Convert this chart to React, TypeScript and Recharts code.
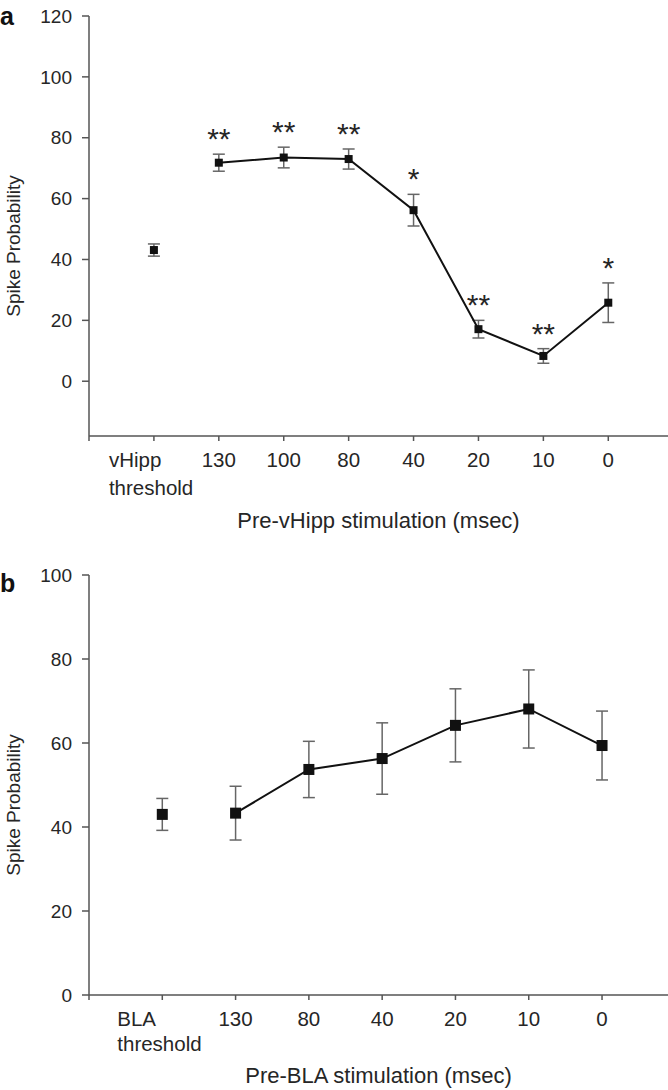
import { ComposedChart, Line, XAxis, YAxis, ErrorBar, LabelList, Label, Customized } from 'recharts'

// panel a: pre-vHipp stimulation
const topLabels = ['vHipp threshold', '130', '100', '80', '40', '20', '10', '0']
const topMeans = [43.1, 71.8, 73.5, 73.0, 56.2, 17.1, 8.3, 25.8]
const topErrors = [2.0, 2.8, 3.4, 3.3, 5.2, 2.9, 2.4, 6.5]
const topSig = ['', '**', '**', '**', '*', '**', '**', '*']
const topYTicks = [0, 20, 40, 60, 80, 100, 120]

// panel b: pre-BLA stimulation
const bottomLabels = ['BLA threshold', '130', '80', '40', '20', '10', '0']
const bottomMeans = [43.0, 43.3, 53.7, 56.3, 64.2, 68.1, 59.4]
const bottomErrors = [3.8, 6.4, 6.7, 8.5, 8.7, 9.3, 8.2]
const bottomYTicks = [0, 20, 40, 60, 80, 100]

const FONT = '"Liberation Sans", Arial, sans-serif'
const AXIS = '#555'
const TEXT = '#262626'

function buildRows(means: number[], errors: number[], sig?: string[]) {
  return means.map((m, i) => ({
    x: i + 1,
    mean: m,
    err: errors[i],
    top: m + errors[i],
    sig: sig ? sig[i] : '',
  }))
}

const topRows = buildRows(topMeans, topErrors, topSig)
const bottomRows = buildRows(bottomMeans, bottomErrors)

const squareDot = (size: number) => (props: any) => {
  const { cx, cy, index } = props
  if (cx == null || cy == null) return <g key={`n-${index}`} />
  return <rect key={`s-${index}`} x={cx - size / 2} y={cy - size / 2} width={size} height={size} fill="#111" />
}

const makeTick = (labels: string[], base: number, second: number) => (props: any) => {
  const { x, y, payload } = props
  const label = labels[payload.value - 1]
  if (!label) return <g />
  const parts = label.split(' ')
  if (parts.length === 1) {
    return (
      <text x={x} y={y + base} textAnchor="middle" fill={TEXT} fontSize={20.5} fontFamily={FONT}>
        {label}
      </text>
    )
  }
  const left = x - 45
  return (
    <text x={left} y={y + base} textAnchor="start" fill={TEXT} fontSize={20.5} fontFamily={FONT}>
      <tspan x={left}>{parts[0]}</tspan>
      <tspan x={left} dy={second}>{parts[1]}</tspan>
    </text>
  )
}

const starLabel = (props: any) => {
  const { value, index } = props
  const x = props.x ?? props.viewBox?.x
  const y = props.y ?? props.viewBox?.y
  if (!value || x == null || y == null) return <g key={`e-${index}`} />
  return (
    <text key={`t-${index}`} x={x} y={y - 5} textAnchor="middle" fill={TEXT} fontSize={30} fontFamily={FONT}>
      {value}
    </text>
  )
}

const yTitle = (props: any) => {
  const vb = props.viewBox || {}
  const cy = vb.y + vb.height / 2 + 20
  return (
    <text transform={`translate(19.5, ${cy}) rotate(-90)`} textAnchor="middle" fill={TEXT} fontSize={19} fontFamily={FONT}>
      Spike Probability
    </text>
  )
}

const xTitle = (text: string, drop: number) => (props: any) => {
  const vb = props.viewBox || {}
  return (
    <text x={vb.x + vb.width / 2} y={vb.y + drop} textAnchor="middle" fill={TEXT} fontSize={22} fontFamily={FONT}>
      {text}
    </text>
  )
}

const panelLetter = (letter: string, y: number) => () => (
  <text x={0} y={y} fontWeight="bold" fill="#111" fontSize={25} fontFamily={FONT}>
    {letter}
  </text>
)

const axisStyle = { stroke: AXIS, strokeWidth: 1.5 }
const yTickStyle = { fill: TEXT, fontSize: 19, fontFamily: FONT }

export default function App() {
  return (
    <div style={{ position: 'absolute', left: 0, top: 0, width: 668, height: 1090, background: '#fff' }}>
      <ComposedChart width={668} height={536} margin={{ top: 16, right: 0, bottom: 0, left: 29 }}>
        <XAxis
          type="number"
          dataKey="x"
          domain={[0, 8.92]}
          ticks={[0, 1, 2, 3, 4, 5, 6, 7, 8]}
          interval={0}
          height={100}
          tickSize={5}
          tickMargin={0}
          axisLine={axisStyle}
          tickLine={axisStyle}
          tick={makeTick(topLabels, 26, 28)}
        >
          <Label content={xTitle('Pre-vHipp stimulation (msec)', 92)} />
        </XAxis>
        <YAxis
          type="number"
          domain={[-18, 120]}
          ticks={topYTicks}
          interval={0}
          width={60}
          tickSize={7}
          tickMargin={10}
          axisLine={axisStyle}
          tickLine={axisStyle}
          tick={yTickStyle}
        >
          <Label content={yTitle} />
        </YAxis>
        <Line
          data={topRows.slice(0, 1)}
          dataKey="mean"
          stroke="none"
          dot={squareDot(8)}
          activeDot={false}
          isAnimationActive={false}
        >
          <ErrorBar dataKey="err" direction="y" width={6} stroke="#666" strokeWidth={1.5} />
        </Line>
        <Line
          data={topRows.slice(1)}
          dataKey="mean"
          stroke="#111"
          strokeWidth={2}
          dot={squareDot(8)}
          activeDot={false}
          isAnimationActive={false}
        >
          <ErrorBar dataKey="err" direction="y" width={6} stroke="#666" strokeWidth={1.5} />
        </Line>
        <Line
          data={topRows.slice(1)}
          dataKey="top"
          stroke="none"
          dot={false}
          activeDot={false}
          isAnimationActive={false}
        >
          <LabelList dataKey="sig" content={starLabel} />
        </Line>
        <Customized component={panelLetter('a', 25)} />
      </ComposedChart>

      <ComposedChart width={668} height={554} margin={{ top: 39, right: 0, bottom: 0, left: 29 }}>
        <XAxis
          type="number"
          dataKey="x"
          domain={[0, 7.9]}
          ticks={[0, 1, 2, 3, 4, 5, 6, 7]}
          interval={0}
          height={95}
          tickSize={5}
          tickMargin={0}
          axisLine={axisStyle}
          tickLine={axisStyle}
          tick={makeTick(bottomLabels, 26, 25)}
        >
          <Label content={xTitle('Pre-BLA stimulation (msec)', 88)} />
        </XAxis>
        <YAxis
          type="number"
          domain={[0, 100]}
          ticks={bottomYTicks}
          interval={0}
          width={60}
          tickSize={7}
          tickMargin={10}
          axisLine={axisStyle}
          tickLine={axisStyle}
          tick={yTickStyle}
        >
          <Label content={yTitle} />
        </YAxis>
        <Line
          data={bottomRows.slice(0, 1)}
          dataKey="mean"
          stroke="none"
          dot={squareDot(11)}
          activeDot={false}
          isAnimationActive={false}
        >
          <ErrorBar dataKey="err" direction="y" width={6} stroke="#666" strokeWidth={1.5} />
        </Line>
        <Line
          data={bottomRows.slice(1)}
          dataKey="mean"
          stroke="#111"
          strokeWidth={2}
          dot={squareDot(11)}
          activeDot={false}
          isAnimationActive={false}
        >
          <ErrorBar dataKey="err" direction="y" width={6} stroke="#666" strokeWidth={1.5} />
        </Line>
        <Customized component={panelLetter('b', 56)} />
      </ComposedChart>
    </div>
  )
}
